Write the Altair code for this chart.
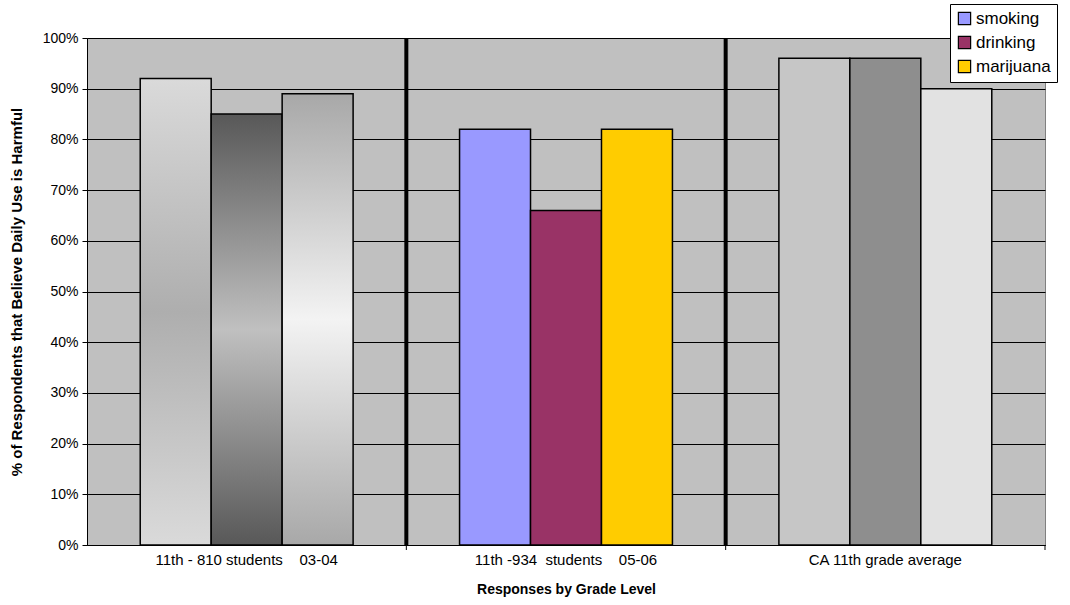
import altair as alt
import pandas as pd

categories = ["11th - 810 students\u00a0\u00a0\u00a0 03-04",
              "11th -934\u00a0 students\u00a0\u00a0\u00a0 05-06",
              "CA 11th grade average"]
series = ["smoking", "drinking", "marijuana"]
colors = ["#9999FF", "#993366", "#FFCC00"]
vals_0304 = [92, 85, 89]
vals_0506 = [82, 66, 82]
vals_ca = [96, 96, 90]

rows = []
for gi, vals in enumerate([vals_0304, vals_0506, vals_ca]):
    for si, v in enumerate(vals):
        rows.append({"cat": categories[gi], "g": gi, "series": series[si], "s": si, "value": v})
df = pd.DataFrame(rows)

W, H = 958, 507
FONT = "Liberation Sans"

xscale = alt.Scale(domain=categories, paddingInner=0, paddingOuter=0)
xenc = alt.X("cat:N", sort=categories, scale=xscale,
             axis=alt.Axis(title="Responses by Grade Level", ticks=False, labelAngle=0,
                           labelFontSize=15, labelFont=FONT, labelColor="black", labelPadding=7,
                           labelLimit=400,
                           titleFont=FONT, titleFontSize=14, titleFontWeight="bold",
                           titleColor="black", titlePadding=15, domainColor="black",
                           grid=False))
xoff = alt.XOffset("series:N", scale=alt.Scale(domain=series, paddingInner=0, paddingOuter=0.75))
yenc = alt.Y("value:Q", scale=alt.Scale(domain=[0, 100]),
             axis=alt.Axis(title="% of Respondents that Believe Daily Use is Harmful",
                           values=list(range(0, 101, 10)), labelExpr="datum.value + '%'",
                           labelFontSize=14, labelFont=FONT, labelColor="black", labelPadding=4,
                           tickSize=5, tickColor="black", domainColor="black",
                           grid=True, gridColor="black", gridWidth=1, gridOpacity=1,
                           titleFont=FONT, titleFontSize=15, titleFontWeight="bold",
                           titleColor="black", titlePadding=18))

base = alt.Chart(df).encode(x=xenc, xOffset=xoff, y=yenc)


def grad(top, mid):
    return alt.Gradient(gradient="linear", x1=0, y1=0, x2=0, y2=1,
                        stops=[alt.GradientStop(offset=0, color=top),
                               alt.GradientStop(offset=0.5, color=mid),
                               alt.GradientStop(offset=1, color=top)])


g1_fills = [grad("#dadada", "#aeaeae"), grad("#585858", "#c0c0c0"), grad("#a8a8a8", "#f3f3f3")]
g3_fills = ["#c6c6c6", "#8e8e8e", "#e2e2e2"]

layers = []
layers.append(
    base.transform_filter(alt.datum.g == 1).mark_bar(stroke="black", strokeWidth=1.5).encode(
        color=alt.Color("series:N", scale=alt.Scale(domain=series, range=colors),
                        legend=alt.Legend(orient="none", legendX=863, legendY=-34, title=None,
                                          fillColor="white", strokeColor="black", padding=6,
                                          labelFontSize=17, labelFont=FONT, labelColor="black",
                                          symbolType="square", symbolSize=150,
                                          symbolStrokeColor="black", symbolStrokeWidth=1.2,
                                          symbolOpacity=1, rowPadding=5, labelOffset=3))
    )
)
for si in range(3):
    layers.append(base.transform_filter((alt.datum.g == 0) & (alt.datum.s == si))
                  .mark_bar(fill=g1_fills[si], stroke="black", strokeWidth=1.5))
    layers.append(base.transform_filter((alt.datum.g == 2) & (alt.datum.s == si))
                  .mark_bar(fill=g3_fills[si], stroke="black", strokeWidth=1.5))

sep_df = pd.DataFrame({"cat": categories[1:]})
seps = alt.Chart(sep_df).mark_rule(color="black", strokeWidth=4).encode(
    x=alt.X("cat:N", sort=categories, scale=xscale, bandPosition=0),
    y=alt.value(0), y2=alt.value(H))
ticks = alt.Chart(sep_df).mark_rule(color="black", strokeWidth=1).encode(
    x=alt.X("cat:N", sort=categories, scale=xscale, bandPosition=0),
    y=alt.value(H), y2=alt.value(H + 5))
end_tick = alt.Chart(pd.DataFrame({"cat": categories[2:]})).mark_rule(color="black", strokeWidth=1).encode(
    x=alt.X("cat:N", sort=categories, scale=xscale, bandPosition=1),
    y=alt.value(H), y2=alt.value(H + 5))

chart = alt.layer(*layers, seps, ticks, end_tick).properties(
    width=W, height=H,
    autosize=alt.AutoSizeParams(type="none"),
    padding={"left": 87, "top": 38, "right": 25, "bottom": 60},
    background="white",
).configure_view(fill="#C0C0C0", stroke="#808080", strokeWidth=1)

chart.save("out.html", embed_options={"renderer": "svg", "actions": False})
